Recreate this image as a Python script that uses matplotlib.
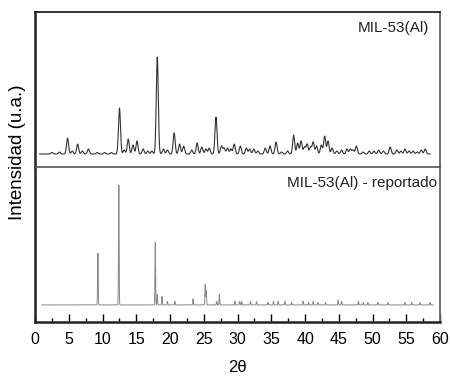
import numpy as np
import matplotlib
matplotlib.use("Agg")
import matplotlib.pyplot as plt

plt.rcParams['font.family'] = ['Liberation Sans', 'DejaVu Sans']

# MIL-53(Al) sintetizado: posiciones de pico (2θ) y alturas relativas
sint_pos = [2.5, 3.6, 4.8, 5.5, 6.3, 7.0, 7.9, 9.2, 10.3, 11.3, 12.5, 13.2,
            13.8, 14.5, 15.1, 16.0, 16.7, 17.3, 18.1, 19.0, 19.6, 20.6,
            21.4, 22.0, 23.2, 24.0, 24.7, 25.3, 25.8, 26.8, 27.6, 28.0,
            28.5, 29.0, 29.5, 30.4, 31.3, 31.8, 32.4, 33.0, 34.1, 34.8,
            35.7, 36.5, 37.4, 38.3, 38.9, 39.4, 39.9, 40.3, 40.8, 41.2,
            41.7, 42.4, 42.9, 43.4, 44.0, 44.7, 45.4, 46.2, 46.7, 47.1,
            47.6, 48.6, 49.5, 50.2, 50.9, 51.6, 52.6, 53.6, 54.2, 54.8,
            55.4, 56.0, 56.6, 57.2, 57.8]
sint_alt = [1.5, 2, 16, 3, 10, 3, 5, 1.5, 1.5, 1.5, 46, 4,
            15, 9, 13, 5, 3, 3, 97, 5, 4, 21,
            10, 8, 4, 11, 7, 5, 6, 37, 8, 6,
            6, 5, 10, 8, 6, 5, 5, 3, 6, 8,
            12, 2, 3, 19, 11, 13, 7, 10, 7, 12,
            8, 9, 18, 13, 6, 3, 4, 5, 5, 4,
            8, 2, 3, 3, 4, 3, 7, 4, 3, 5,
            3, 3, 2, 4, 5]

# MIL-53(Al) reportado: patrón de referencia
rep_pos = [9.3, 12.4, 17.8, 18.1, 18.8, 19.6, 20.7, 23.4, 25.2, 25.35,
           26.9, 27.3, 29.6, 30.3, 30.6, 31.9, 32.8, 34.5, 35.3, 36.0,
           37.0, 38.0, 39.7, 40.5, 41.2, 41.9, 43.0, 44.9, 45.4, 47.9,
           48.6, 49.3, 50.8, 52.3, 54.8, 55.8, 57.0, 58.5]
rep_alt = [43, 100, 52, 9, 7, 3, 3, 5, 17, 12,
           3, 9, 3, 3, 3, 3, 3, 2, 3, 3,
           3, 2, 3, 2, 3, 2, 2, 4, 3, 3,
           2, 2, 2, 2, 2, 2, 2, 2]

x_sint = np.arange(0.7, 58.5, 0.01)
x_rep = np.arange(1.0, 59.0, 0.01)


def perfil(x, pos, alt, sigma):
    y = np.zeros_like(x)
    for p, a in zip(pos, alt):
        y += a * np.exp(-0.5 * ((x - p) / sigma) ** 2)
    return y


y_sint = perfil(x_sint, sint_pos, sint_alt, 0.15)
y_rep = perfil(x_rep, rep_pos, rep_alt, 0.045)

fig = plt.figure(figsize=(4.5, 3.77), dpi=100)
ax1 = fig.add_axes([0.078, 0.557, 0.9, 0.411])
ax2 = fig.add_axes([0.078, 0.146, 0.9, 0.411])

ax1.plot(x_sint, y_sint, color='#333333', lw=0.8)
ax1.set_xlim(0, 60)
ax1.set_ylim(-13, 142)
ax1.set_xticks([])
ax1.set_yticks([])
ax1.spines['bottom'].set_visible(False)
ax1.text(0.973, 0.9, 'MIL-53(Al)', transform=ax1.transAxes,
         ha='right', va='center', fontsize=11, color='#222222')

ax2.plot(x_rep, y_rep, color='#888888', lw=0.7)
ax2.set_xlim(0, 60)
ax2.set_ylim(-14.2, 115)
ax2.set_yticks([])
ax2.set_xticks(np.arange(0, 61, 5))
ax2.set_xticks(np.arange(2.5, 60, 5), minor=True)
ax2.tick_params(axis='x', which='major', direction='in', length=6,
                width=1.0, labelsize=11.5, pad=7)
ax2.tick_params(axis='x', which='minor', direction='in', length=3, width=1.0)
ax2.text(0.993, 0.9, 'MIL-53(Al) - reportado', transform=ax2.transAxes,
         ha='right', va='center', fontsize=11, color='#222222')

for ax in (ax1, ax2):
    for s in ax.spines.values():
        s.set_color('#222222')
        s.set_linewidth(1.3)
ax1.spines['right'].set_color('#666666')
ax2.spines['right'].set_color('#666666')
ax2.spines['top'].set_color('#555555')
ax2.spines['top'].set_linewidth(1.2)
ax1.spines['left'].set_linewidth(1.8)
ax2.spines['left'].set_linewidth(1.8)
ax2.spines['bottom'].set_linewidth(1.8)

fig.text(0.527, 1 - 368 / 377, '2θ', ha='center', va='center', fontsize=12)
fig.text(18 / 450, 1 - 152 / 377, 'Intensidad (u.a.)', rotation=90,
         ha='center', va='center', fontsize=13.5)

fig.savefig('out.png', dpi=100)
